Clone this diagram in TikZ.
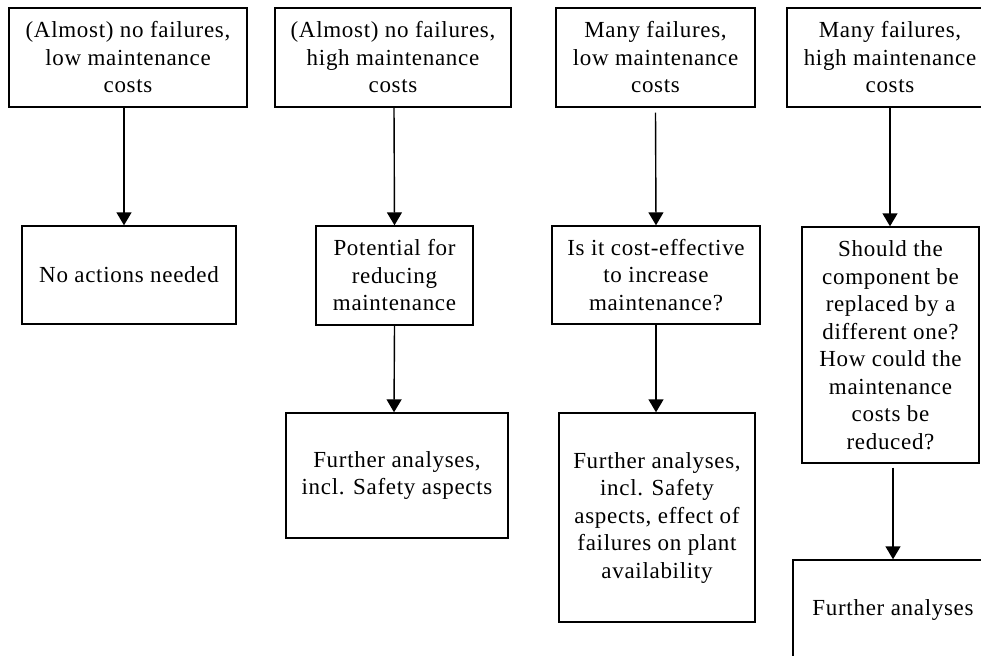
\documentclass[tikz,border=0pt]{standalone}
\usepackage{fontspec}
\setmainfont{Liberation Serif}[LetterSpace=3]
\usetikzlibrary{arrows.meta}
\tikzset{
  box/.style={draw, line width=1.4pt, align=center, inner sep=0pt,
    font=\fontsize{23}{27.5}\selectfont},
  arr/.style={-{Triangle[width=15pt,length=13pt]}, line width=1.4pt}
}
\begin{document}
\begin{tikzpicture}[x=1pt,y=-1pt]
\useasboundingbox (0,0) rectangle (981,655);
\clip (0,0) rectangle (981,655);
% column 1
\node[box, minimum width=238pt, minimum height=99pt] (t1) at (128,57.5) {(Almost) no failures,\\low maintenance\\costs};
\node[box, minimum width=214pt, minimum height=98pt] (m1) at (129,275) {No actions needed};
% column 2
\node[box, minimum width=236pt, minimum height=99pt] (t2) at (393,57.5) {(Almost) no failures,\\high maintenance\\costs};
\node[box, minimum width=157pt, minimum height=99pt] (m2) at (394.5,275.5) {Potential for\\reducing\\maintenance};
\node[box, minimum width=222pt, minimum height=125pt] (b2) at (397,475.5) {Further analyses,\\incl. Safety aspects};
% column 3
\node[box, minimum width=199pt, minimum height=99pt] (t3) at (655.5,57.5) {Many failures,\\low maintenance\\costs};
\node[box, minimum width=208pt, minimum height=98pt] (m3) at (656,275) {Is it cost-effective\\to increase\\maintenance?};
\node[box, minimum width=196pt, minimum height=209pt] (b3) at (657,517.5) {Further analyses,\\incl. Safety\\aspects, effect of\\failures on plant\\availability};
% column 4
\node[box, minimum width=206pt, minimum height=99pt] (t4) at (890,57.5) {Many failures,\\high maintenance\\costs};
\node[box, minimum width=177pt, minimum height=236pt] (m4) at (890.5,345) {Should the\\component be\\replaced by a\\different one?\\How could the\\maintenance\\costs be\\reduced?};
\node[box, minimum width=200pt, minimum height=100pt] (b4) at (893,610) {Further analyses};
% connectors
\draw[arr] ([xshift=-4pt]t1.south) -- ([xshift=-5pt]m1.north);
\draw[arr] ([xshift=1pt]t2.south) -- (m2.north);
\draw[arr] (m2.south) -- ([xshift=-3pt]b2.north);
\draw[arr] ([yshift=-5pt]t3.south) -- (m3.north);
\draw[arr] (m3.south) -- ([xshift=-1pt]b3.north);
\draw[arr] (t4.south) -- (m4.north -| t4.south);
\draw[arr] ([yshift=-4pt,xshift=2.5pt]m4.south) -- (b4.north);
\end{tikzpicture}
\end{document}
